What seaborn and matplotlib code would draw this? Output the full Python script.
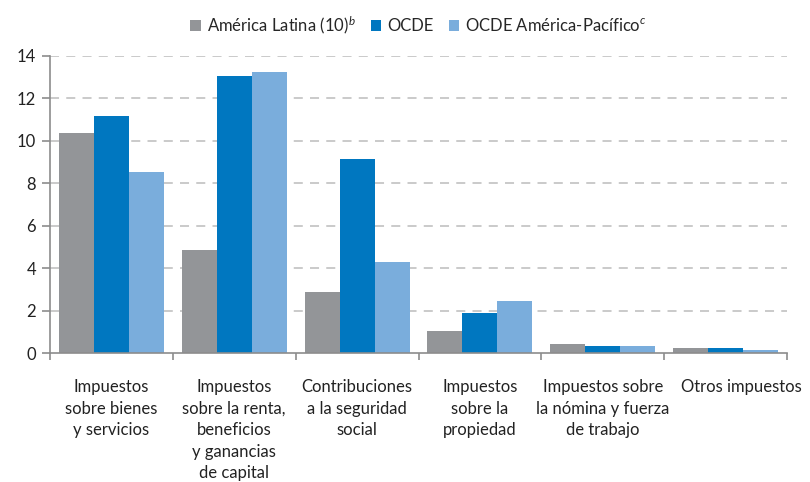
import matplotlib
matplotlib.use("Agg")
import matplotlib.pyplot as plt
import matplotlib.transforms as mtransforms
import seaborn as sns
import pandas as pd
import numpy as np
from matplotlib.ticker import FixedLocator

categories = ["Impuestos\nsobre bienes\ny servicios",
              "Impuestos\nsobre la renta,\nbeneficios\ny ganancias\nde capital",
              "Contribuciones\na la seguridad\nsocial",
              "Impuestos\nsobre la\npropiedad",
              "Impuestos sobre\nla nómina y fuerza\nde trabajo",
              "Otros impuestos"]
series = ["América Latina (10)$^{b}$", "OCDE", "OCDE América-Pacífico$^{c}$"]
latam = [10.38, 4.86, 2.88, 1.04, 0.41, 0.22]
ocde = [11.18, 13.07, 9.15, 1.90, 0.32, 0.22]
ocde_ap = [8.54, 13.25, 4.29, 2.45, 0.32, 0.13]
colors = ["#939598", "#0077c0", "#7aaddc"]

df = pd.DataFrame({
    "cat": categories * 3,
    "serie": [series[0]] * 6 + [series[1]] * 6 + [series[2]] * 6,
    "val": latam + ocde + ocde_ap,
})

sns.set_theme(style="white")
plt.rcParams["font.family"] = ["Lato", "DejaVu Sans"]
plt.rcParams["mathtext.fontset"] = "custom"
plt.rcParams["mathtext.it"] = "Lato:italic"
plt.rcParams["ytick.left"] = True
plt.rcParams["ytick.major.size"] = 6
plt.rcParams["ytick.major.width"] = 1.2
plt.rcParams["ytick.color"] = "#8c8c8c"
plt.rcParams["xtick.minor.size"] = 5

fig = plt.figure(figsize=(8.1, 4.82), dpi=100)
ax = fig.add_axes([50/810, 1-353/482, 737/810, 297/482])
sns.barplot(data=df, x="cat", y="val", hue="serie", palette=colors,
            width=0.855, saturation=1, ax=ax, legend=True, linewidth=0,
            edgecolor="none")

ax.set_ylim(0, 14)
ax.set_xlim(-0.5, 5.5)
ax.set_yticks(np.arange(0, 15, 2))
ax.set_xlabel("")
ax.set_ylabel("")
for y in range(2, 15, 2):
    ax.axhline(y, color="#c6c6c6", lw=1.3, ls=(0, (5, 4)), zorder=0)
ax.set_axisbelow(True)
for s in ["top", "right"]:
    ax.spines[s].set_visible(False)
for s in ["left", "bottom"]:
    ax.spines[s].set_color("#8c8c8c")
    ax.spines[s].set_linewidth(1.2)
ax.tick_params(axis="x", which="major", length=0, pad=19, labelsize=12, colors="#222222")
ax.xaxis.set_minor_locator(FixedLocator(np.arange(-0.5, 6, 1)))
ax.tick_params(axis="x", which="minor", bottom=True, length=5, width=1.2, color="#8c8c8c", direction="out")
ax.tick_params(axis="y", which="major", left=True, length=6, width=1.2, color="#8c8c8c", direction="out",
               labelsize=12, labelcolor="#222222", pad=4)
labels = ax.get_xticklabels()
for lab in labels:
    lab.set_linespacing(1.42)
    lab.set_verticalalignment("top")
labels[-1].set_transform(labels[-1].get_transform() +
                         mtransforms.ScaledTranslation(16/100, 0, fig.dpi_scale_trans))

ax.legend(loc="lower center", bbox_to_anchor=(0.5, 1.045), ncol=3, frameon=False,
          fontsize=12, handlelength=0.65, handleheight=0.65, handletextpad=0.35,
          columnspacing=0.9, borderaxespad=0)

fig.savefig("out.png", dpi=100)
